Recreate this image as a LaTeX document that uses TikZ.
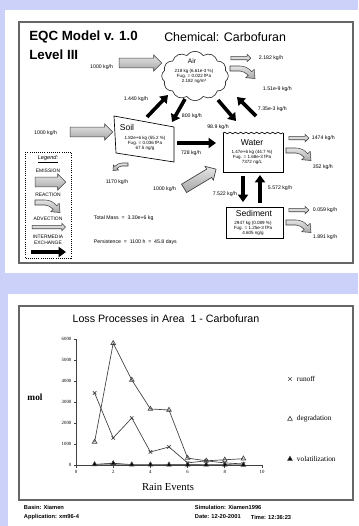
\documentclass[tikz,border=0pt]{standalone}
\usepackage{fontspec}
\setmainfont{Liberation Sans}
\newfontfamily\chartserif{Liberation Serif}
\usetikzlibrary{shapes.arrows,shapes.symbols,arrows.meta,decorations.pathmorphing,plotmarks}
\definecolor{bgblue}{RGB}{204,209,250}
\tikzset{
  frame/.style={draw=black!60, line width=0.9pt},
  emis/.style={single arrow, draw=black!75, line width=0.5pt, top color=gray!20, bottom color=gray!70,
    inner xsep=0pt, inner ysep=3.4pt, single arrow head extend=2.4pt, minimum height=32pt},
  advc/.style={single arrow, draw=black!75, line width=0.4pt, fill=gray!30,
    inner xsep=0pt, inner ysep=1.1pt, single arrow head extend=1.5pt, minimum height=15pt},
  xch/.style={line width=2.7pt, -{Triangle[length=5.5pt,width=7.5pt]}},
  react/.pic={\draw[yscale=-1, draw=black!75, line width=0.4pt, top color=gray!20, bottom color=gray!70]
    (0,0) -- (10,0) .. controls (15,0) and (19,2.5) .. (21.8,5.7) -- (24.2,3.3) -- (25,12.5)
    -- (15.8,11.7) -- (18.2,9.3) .. controls (16,7) and (13,5) .. (10,5) -- (0,5) -- cycle;},
  ttl/.style={font=\bfseries\fontsize{10}{12}\selectfont, inner sep=0.75pt},
  lbl/.style={font=\fontsize{3.9}{4.6}\selectfont, inner sep=0.5pt},
  cmp/.style={font=\fontsize{6.4}{7}\selectfont, inner sep=0.5pt},
  cdat/.style={font=\fontsize{3.4}{3.75}\selectfont, align=center, inner sep=0.5pt},
  lgd/.style={font=\fontsize{3.7}{4.4}\selectfont, inner sep=0.5pt},
  ser/.style={font=\chartserif\fontsize{3.6}{4}\selectfont, inner sep=0.5pt},
  ser2/.style={font=\chartserif\fontsize{5.5}{6}\selectfont, inner sep=0.5pt},
  dline/.style={draw=black!75, line width=0.5pt},
  foot/.style={font=\bfseries\fontsize{4.3}{5}\selectfont, inner sep=0.5pt},
}
\begin{document}
\begin{tikzpicture}[x=0.75pt,y=0.75pt,yscale=-1,xscale=1,every mark/.append style={yscale=-1}]
\useasboundingbox (0,0) rectangle (358,526);

%Shape: background and panels
\fill[bgblue] (0,0) rectangle (358,526);
\fill[white] (5,10) rectangle (358,273);
\fill[white] (8,294) rectangle (358,526);
\draw[frame] (19,22) rectangle (353,263);
\draw[frame] (19,306) rectangle (353,500);

% Text Node
\draw (28,37) node [anchor=west][ttl] (title) {EQC Model v. 1.0};
% Text Node
\draw (163,37) node [anchor=west][inner sep=0.75pt, font=\fontsize{9.3}{11}\selectfont] (chem) {Chemical: Carbofuran};
% Text Node
\draw (28,55) node [anchor=west][ttl] (level) {Level III};

%Shape: Air cloud
\node [cloud, draw=black!80, fill=white, line width=0.5pt, cloud puffs=12, cloud puff arc=110, aspect=1.35,
  minimum width=50pt, minimum height=37pt, inner sep=0pt] (air) at (195,76) {};
\draw (192,61) node [cmp, font=\fontsize{5}{6}\selectfont] (airname) {Air};
\draw (194,76) node [cdat] (airdata) {218 kg (6.61e-3 \%)\\Fug. = 0.022 fPa\\2.182 ng/m³};

%Shape: Soil polygon
\draw [line width=0.5pt, fill=white] (114,116) -- (174,127) -- (174,162) -- (116,153) -- cycle;
\draw (127,127) node [cmp] (soilname) {Soil};
\draw (145,143) node [cdat] (soildata) {1.82e+6 kg (55.2 \%)\\Fug. = 0.036 fPa\\67.5 ng/g};

%Shape: Water box
\draw [line width=0.5pt] (223,133) -- (223,172) -- (283,172) -- (283,133);
\draw [line width=0.5pt, decorate, decoration={snake, segment length=4pt, amplitude=0.6pt}] (223,133) -- (283,133);
\draw (252,143) node [cmp] (watername) {Water};
\draw (252,157) node [cdat] (waterdata) {1.47e+6 kg (44.7 \%)\\Fug. = 1.68e-3 fPa\\7372 ng/L};

%Shape: Sediment box
\draw [line width=0.5pt] (226,207) rectangle (283,238);
\draw (254,213) node [cmp] (sedname) {Sediment};
\draw (253,228) node [cdat] (seddata) {2947 kg (0.089 \%)\\Fug. = 1.25e-3 fPa\\4.605 ng/g};

%Emission arrows
\node [emis] (emisair) at (138,63) {};
\draw (114,67) node [anchor=east][lbl] (lemisair) {1000 kg/h};
\node [emis] (emissoil) at (89,132) {};
\draw (58,133) node [anchor=east][lbl] (lemissoil) {1000 kg/h};
\node [emis, rotate=31, minimum height=28pt] (emiswater) at (198,180) {};
\draw (177,189) node [anchor=east][lbl] (lemiswater) {1000 kg/h};

%Advection arrows
\node [advc] (advair) at (240,58) {};
\draw (258,58) node [anchor=west][lbl] (ladvair) {2.182 kg/h};
\node [advc] (advwater) at (298,138) {};
\draw (311,138) node [anchor=west][lbl] (ladvwater) {1474 kg/h};
\node [advc] (advsed) at (298,210) {};
\draw (312,210) node [anchor=west][lbl] (ladvsed) {0.059 kg/h};

%Reaction arrows
\pic (reactair) at (230,66) {react};
\draw (262,89) node [anchor=west][lbl] (lreactair) {1.51e-9 kg/h};
\pic (reactwater) at (286,148) {react};
\draw (312,167) node [anchor=west][lbl] (lreactwater) {352 kg/h};
\pic (reactsed) at (286,220) {react};
\draw (312,237) node [anchor=west][lbl] (lreactsed) {1.891 kg/h};
\pic [xscale=-1, scale=0.6] (reactsoil) at (128,163) {react};
\draw (117,182) node [lbl] (lreactsoil) {1170 kg/h};

%Intermedia exchange
\coordinate (soiltop) at (147,117);
\coordinate (airsw) at (168,95);
\coordinate (airs) at (185,99);
\coordinate (soilne) at (172,122);
\coordinate (airse) at (218,100);
\coordinate (waternw) at (236,121);
\coordinate (waterne) at (256,116);
\coordinate (aire) at (237,97);
\coordinate (soile) at (177,143);
\coordinate (waterw) at (216,143);
\coordinate (waterb1) at (243,176);
\coordinate (sedt1) at (243,202);
\coordinate (sedt2) at (260,203);
\coordinate (waterb2) at (260,175);
\draw [xch] (soiltop) -- (airsw);
\draw [xch] (airs) -- (soilne);
\draw [xch] (airse) -- (waternw);
\draw [xch] (waterne) -- (aire);
\draw [xch] (soile) -- (waterw);
\draw [xch] (waterb1) -- (sedt1);
\draw [xch] (sedt2) -- (waterb2);
\draw (136,99) node [lbl] (lsoilair) {1.440 kg/h};
\draw (181,116) node [anchor=west][lbl] (lairsoil) {800 kg/h};
\draw (218,127) node [lbl] (lairwater) {98.9 kg/h};
\draw (257,109) node [anchor=west][lbl] (lwaterair) {7.35e-3 kg/h};
\draw (191,153) node [lbl] (lsoilwater) {728 kg/h};
\draw (238,194) node [anchor=east][lbl] (lwatersed) {7.522 kg/h};
\draw (267,188) node [anchor=west][lbl] (lsedwater) {5.572 kg/h};

% Text Node
\draw (93,218) node [anchor=west][lbl] (mass) {Total Mass \ = \ 3.30e+6 kg};
% Text Node
\draw (93,242) node [anchor=west][lbl] (persist) {Persistence \ = \ 1100 h \ = \ 45.8 days};

%Legend
\draw [line width=0.6pt, densely dotted] (25,152) rectangle (71,258);
\draw (48,159) node [lgd, font=\itshape\fontsize{4.2}{5}\selectfont] (legend) {\underline{Legend:}};
\draw (48,171) node [lgd] (lgemis) {EMISSION};
\node [emis, minimum height=23pt] (lgemisarrow) at (48,182) {};
\draw (48,195) node [lgd] (lgreact) {REACTION};
\pic (lgreactarrow) at (35,200) {react};
\draw (48,219) node [lgd] (lgadv) {ADVECTION};
\node [advc, minimum height=25pt] (lgadvarrow) at (48,227) {};
\draw (48,240) node [lgd, align=center, font=\fontsize{3.7}{4.6}\selectfont] (lgxch) {INTERMEDIA\\EXCHANGE};
\coordinate (lgxa) at (31,252);
\coordinate (lgxb) at (66,252);
\draw [xch] (lgxa) -- (lgxb);

%Chart
\draw (166,319) node [inner sep=0.5pt, font=\fontsize{8}{9}\selectfont] (charttitle) {Loss Processes in Area \ 1 - Carbofuran};
\draw (35,397) node [inner sep=0.5pt, font=\chartserif\bfseries\fontsize{7}{8}\selectfont] (mol) {mol};
\draw (168,487) node [inner sep=0.5pt, font=\chartserif\fontsize{8}{9}\selectfont] (rain) {Rain Events};
\begin{scope}[shift={(76,465)}, x=13.95pt, y=-0.01575pt]
\draw [dline] (0,0) -- (10,0);
\draw [dline] (0,0) -- (0,6000);
\foreach \v in {0,1000,...,6000} {
  \draw [dline] (-0.12,\v) -- (0,\v);
  \draw (-0.2,\v) node [anchor=east][ser] (yt\v) {\v};
}
\foreach \e in {0,2,...,10} {
  \draw [dline] (\e,0) -- (\e,-120);
  \draw (\e,-220) node [anchor=north][ser] (xt\e) {\e};
}
\draw [dline] plot [mark=x, mark size=1.8pt] coordinates
  {(1,3430) (2,1290) (3,2240) (4,620) (5,860) (6,100) (7,200) (8,100) (9,50)};
\draw [dline] plot [mark=triangle, mark size=2pt] coordinates
  {(1,1100) (2,5800) (3,4050) (4,2670) (5,2620) (6,330) (7,200) (8,250) (9,300)};
\draw [dline, fill=black] plot [mark=triangle*, mark size=2pt] coordinates
  {(1,30) (2,80) (3,20) (4,20) (5,10) (6,10) (7,10) (8,10) (9,5)};
\end{scope}
\draw [dline] plot [mark=x, mark size=1.8pt] coordinates {(290,379)};
\draw (296,379) node [anchor=west][ser2] (lrunoff) {runoff};
\draw [dline] plot [mark=triangle, mark size=2pt] coordinates {(290,419)};
\draw (296,419) node [anchor=west][ser2] (ldegr) {degradation};
\draw [dline, fill=black] plot [mark=triangle*, mark size=2pt] coordinates {(290,459)};
\draw (296,459) node [anchor=west][ser2] (lvol) {volatilization};

% Text Node
\draw (23,507) node [anchor=west][foot] (basin) {Basin: Xiamen};
\draw (23,517) node [anchor=west][foot] (appl) {Application: xm96-4};
\draw (194,507) node [anchor=west][foot] (simul) {Simulation: Xiamen1996};
\draw (194,517) node [anchor=west][foot] (date) {Date: 12-20-2001};
\draw (250,517) node [anchor=west][foot] (time) {Time: 12:36:23};

\end{tikzpicture}
\end{document}
